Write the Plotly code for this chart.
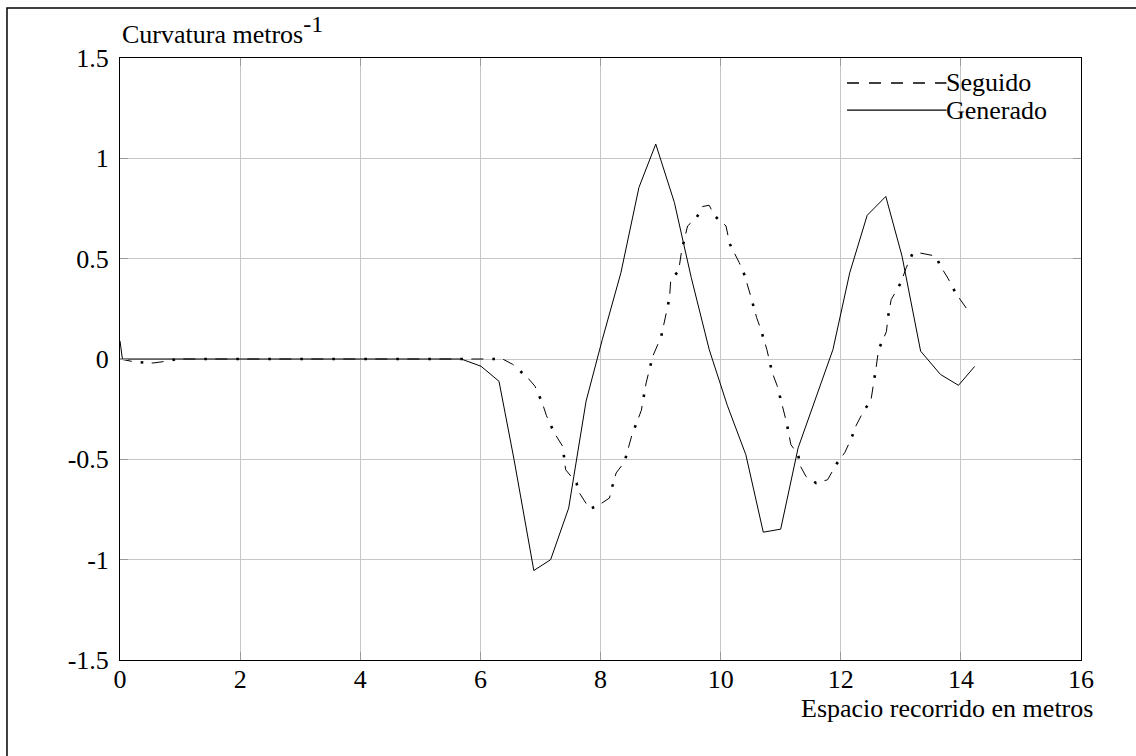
import plotly.graph_objects as go

# ---------------- data ----------------
gen_x = [0.0, 0.04, 5.32, 5.68, 6.01, 6.31, 6.56, 6.89, 7.17, 7.47, 7.76, 8.03, 8.34,
         8.64, 8.92, 9.23, 9.51, 9.81, 10.11, 10.42, 10.71, 11.0, 11.29, 11.56,
         11.87, 12.15, 12.44, 12.75, 13.02, 13.33, 13.66, 13.96, 14.23]
gen_y = [0.09, 0.0, 0.0, 0.0, -0.036, -0.111, -0.50, -1.054, -1.00, -0.743, -0.21,
         0.097, 0.43, 0.855, 1.071, 0.78, 0.407, 0.047, -0.23, -0.477, -0.863,
         -0.848, -0.443, -0.21, 0.047, 0.43, 0.716, 0.81, 0.513, 0.039, -0.077,
         -0.131, -0.037]

seg_x = [0.0, 0.25, 0.55, 0.8, 0.95, 6.37, 6.54, 6.79, 6.91, 7.03, 7.10, 7.23, 7.37,
         7.42, 7.60, 7.65, 7.82, 7.98, 8.15, 8.18, 8.26, 8.40, 8.52, 8.68, 8.76,
         8.82, 8.87, 9.01, 9.15, 9.17, 9.30, 9.35, 9.45, 9.60, 9.70, 9.81, 9.90,
         10.09, 10.15, 10.31, 10.40, 10.50, 10.60, 10.67, 10.77, 10.86, 10.94,
         11.03, 11.10, 11.17, 11.29, 11.33, 11.42, 11.59, 11.78, 11.93, 12.07,
         12.18, 12.25, 12.39, 12.50, 12.59, 12.63, 12.76, 12.79, 12.84, 13.00,
         13.09, 13.19, 13.29, 13.46, 13.58, 13.66, 13.79, 13.91, 13.99, 14.12]
seg_y = [0.0, -0.015, -0.02, -0.01, 0.0, 0.0, -0.027, -0.094, -0.136, -0.219, -0.282,
         -0.368, -0.435, -0.552, -0.618, -0.668, -0.748, -0.726, -0.693, -0.653,
         -0.568, -0.513, -0.382, -0.256, -0.119, -0.049, 0.014, 0.111, 0.306,
         0.397, 0.438, 0.538, 0.663, 0.705, 0.760, 0.766, 0.713, 0.663, 0.575,
         0.480, 0.417, 0.314, 0.206, 0.147, 0.047, -0.069, -0.132, -0.236, -0.319,
         -0.427, -0.477, -0.535, -0.585, -0.618, -0.602, -0.523, -0.465, -0.393,
         -0.335, -0.254, -0.211, -0.039, 0.047, 0.136, 0.214, 0.296, 0.380, 0.455,
         0.522, 0.530, 0.520, 0.513, 0.463, 0.400, 0.330, 0.297, 0.241]

x_ticks = [0, 2, 4, 6, 8, 10, 12, 14, 16]
x_tick_text = ["0", "2", "4", "6", "8", "10", "12", "14", "16"]
y_ticks = [-1.5, -1, -0.5, 0, 0.5, 1, 1.5]
y_tick_text = ["-1.5", "-1", "-0.5", "0", "0.5", "1", "1.5"]

series_names = ["Seguido", "Generado"]
x_label = "Espacio recorrido en metros"
y_label = "Curvatura metros<sup><span style='font-size:24px'>-1</span></sup>"

FONT = "Liberation Serif, Times New Roman, serif"

fig = go.Figure()

# Seguido: thin dashes
fig.add_trace(go.Scatter(x=seg_x, y=seg_y, mode="lines", name=series_names[0],
                         showlegend=False,
                         line=dict(color="black", width=1, dash="12px,20px"),
                         hoverinfo="skip"))
# Seguido: bold dots between the dashes
fig.add_trace(go.Scatter(x=seg_x, y=seg_y, mode="lines", name=series_names[0],
                         showlegend=False,
                         line=dict(color="black", width=2.6, dash="0px,21px,2.6px,8.4px"),
                         hoverinfo="skip"))
# Generado
fig.add_trace(go.Scatter(x=gen_x, y=gen_y, mode="lines", name=series_names[1],
                         showlegend=False, line=dict(color="black", width=1)))

axis_common = dict(showgrid=True, gridcolor="#c6c6c6", gridwidth=1,
                   showline=True, linecolor="black", linewidth=1, mirror="ticks",
                   ticks="inside", ticklen=8, tickcolor="#9a9a9a",
                   zeroline=False, tickfont=dict(family=FONT, size=26, color="black"))

fig.update_xaxes(range=[0, 16], tickvals=x_ticks, ticktext=x_tick_text,
                 ticklabelstandoff=-4, **axis_common)
fig.update_yaxes(range=[-1.5, 1.5], tickvals=y_ticks, ticktext=y_tick_text,
                 ticklabelstandoff=5, **axis_common)

# manual legend (MATLAB style: long line sample, text right after, no box)
leg_x0, leg_x1 = 0.7565, 0.8600
leg_rows = [0.9585, 0.9135]
leg_dash = ["12px,10px", "solid"]
shapes = [
    dict(type="rect", xref="paper", yref="paper",
         x0=-0.1176, x1=1.08, y0=-0.2, y1=1.083,
         line=dict(color="black", width=1.5), fillcolor="rgba(0,0,0,0)",
         layer="below"),
]
annotations = [
    dict(text=y_label, x=0, y=1.047, xref="paper", yref="paper",
         xanchor="left", yanchor="middle", showarrow=False,
         font=dict(family=FONT, size=26, color="black")),
    dict(text=x_label, x=1, y=-0.081, xref="paper", yref="paper",
         xanchor="right", yanchor="middle", xshift=14, showarrow=False,
         font=dict(family=FONT, size=26, color="black")),
]
for name, yy, dsh in zip(series_names, leg_rows, leg_dash):
    shapes.append(dict(type="line", xref="paper", yref="paper",
                       x0=leg_x0, x1=leg_x1, y0=yy, y1=yy,
                       line=dict(color="black", width=1.3, dash=dsh)))
    annotations.append(dict(text=name, x=leg_x1, y=yy, xref="paper", yref="paper",
                            xanchor="left", yanchor="middle", xshift=-2,
                            showarrow=False,
                            font=dict(family=FONT, size=26, color="black")))

fig.update_layout(
    width=1136, height=756,
    margin=dict(l=120, r=55, t=58, b=96),
    paper_bgcolor="white", plot_bgcolor="white",
    font=dict(family=FONT, size=24, color="black"),
    showlegend=False,
    annotations=annotations,
    shapes=shapes,
)

fig.write_html("out.html")
